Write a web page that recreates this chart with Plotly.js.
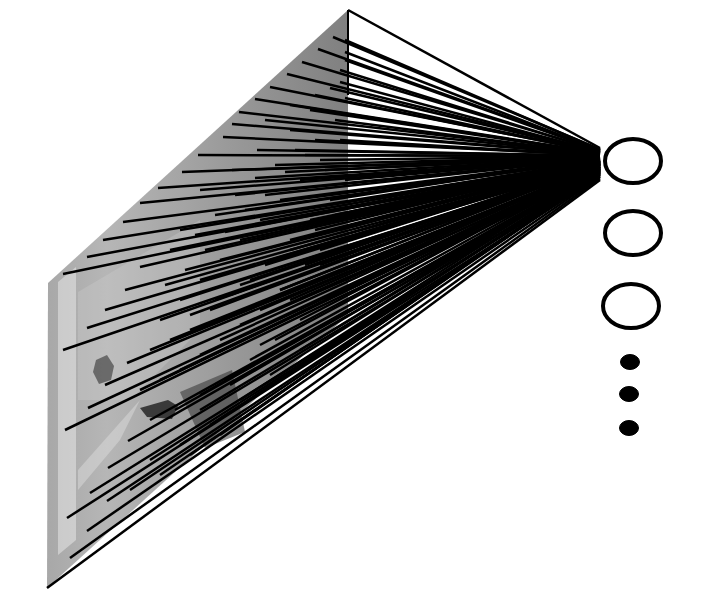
<!DOCTYPE html>
<html><head><meta charset="utf-8">
<script src="https://cdn.plot.ly/plotly-3.0.1.min.js"></script>
<style>html,body{margin:0;padding:0;background:#fff}#chart{width:711px;height:611px}</style>
</head><body><div id="chart"></div>
<script>
// Image parallelogram corners (sheared input picture)
const imageX = [348, 48, 47, 348];
const imageY = [10, 283, 588, 315];

// A few tonal regions of the picture
const lightBandX = [58, 76, 76, 58];
const lightBandY = [282, 267, 540, 555];
const lightFaceX = [78, 200, 200, 130, 78];
const lightFaceY = [292, 220, 330, 400, 400];
const lightTriX = [78, 140, 120, 78];
const lightTriY = [470, 400, 440, 490];
const eyeX = [96, 107, 114, 111, 99, 93];
const eyeY = [360, 355, 366, 380, 384, 372];
const chinX = [140, 168, 178, 172, 147];
const chinY = [408, 400, 406, 419, 417];
const darkX = [180, 232, 245, 205];
const darkY = [392, 370, 432, 448];

// Start points of the connection lines (pixels of the input)
const startX = [348,333,318,302,287,270,255,239,232,223,198,182,158,140,123,103,87,63,
  180,125,105,87,140,232,257,200,290,310,330,340,
  63,127,105,88,65,128,108,90,107,67,87,70,47,
  160,180,200,220,240,260,280,300,320,340,
  150,170,190,210,230,250,270,290,310,330,345,
  140,160,180,200,220,240,260,280,300,320,340,
  150,175,200,225,250,275,300,325,345,
  150,180,210,240,270,300,
  130,160,190,220, 345,345,345,345,
  170,195,215,235,255,275,295,315,335,
  165,185,205,225,245,265,285,305,325,
  190,215,240,265,290,315,335,
  200,230,260,290,320,
  265,290,315,340, 280,305,330];
const startY = [10,37,49,62,74,87,99,112,124,137,155,172,188,203,222,240,257,274,
  230,290,310,328,267,170,150,190,130,110,88,70,
  350,363,385,408,430,441,468,493,501,518,531,558,588,
  320,300,280,260,240,220,200,180,160,140,
  350,340,330,310,295,280,260,240,220,200,180,
  390,380,370,355,340,325,310,290,270,250,230,
  420,410,395,380,360,340,320,300,280,
  460,445,425,400,375,350,
  490,475,455,435, 40,52,60,98,
  250,235,215,195,178,165,150,140,120,
  285,270,250,232,210,195,172,155,170,
  315,300,285,265,250,230,215,
  410,385,345,300,265,
  120,105,95,82, 290,265,245];

// Output neurons
const nodeX = [633, 633, 631];
const nodeY = [161, 233, 306];
const dotX = [630, 629, 629];
const dotY = [362, 394, 428];

const convX = 600;
const lx = [], ly = [];
for (let i = 0; i < startX.length; i++) {
  const ey = 148 + (startY[i] - 10) * 32 / 578;
  lx.push(startX[i], convX, null);
  ly.push(startY[i], ey, null);
}

function region(x, y, color) {
  return {x: x, y: y, mode: 'lines', fill: 'toself', fillcolor: color, line: {width: 0},
    hoverinfo: 'skip', showlegend: false};
}

const traces = [
  {x: imageX, y: imageY, mode: 'lines', fill: 'toself', line: {width: 0},
   fillgradient: {type: 'horizontal', colorscale: [[0, '#a8a8a8'], [0.2, '#b6b6b6'], [0.6, '#9a9a9a'], [1, '#808080']]},
   hoverinfo: 'skip', showlegend: false},
  region(lightBandX, lightBandY, 'rgba(225,225,225,0.6)'),
  region(lightFaceX, lightFaceY, 'rgba(210,210,210,0.3)'),
  region(lightTriX, lightTriY, 'rgba(220,220,220,0.5)'),
  region(eyeX, eyeY, 'rgba(50,50,50,0.6)'),
  region(chinX, chinY, 'rgba(20,20,20,0.75)'),
  region(darkX, darkY, 'rgba(40,40,40,0.5)'),
  {x: [348, 348], y: [10, 95], mode: 'lines', line: {color: '#000', width: 2}, hoverinfo: 'skip', showlegend: false},
  {x: lx, y: ly, mode: 'lines', line: {color: '#000', width: 2.5}, hoverinfo: 'skip', showlegend: false}
];

const shapes = [];
for (let i = 0; i < nodeX.length; i++) {
  shapes.push({type: 'circle', xref: 'x', yref: 'y', x0: nodeX[i] - 28, x1: nodeX[i] + 28, y0: nodeY[i] - 22, y1: nodeY[i] + 22,
    line: {color: '#000', width: 4}, fillcolor: '#fff', layer: 'above'});
}
for (let i = 0; i < dotX.length; i++) {
  shapes.push({type: 'circle', xref: 'x', yref: 'y', x0: dotX[i] - 9.5, x1: dotX[i] + 9.5, y0: dotY[i] - 7.5, y1: dotY[i] + 7.5,
    line: {color: '#000', width: 1}, fillcolor: '#000', layer: 'above'});
}

Plotly.newPlot('chart', traces, {
  width: 711, height: 611,
  margin: {l: 0, r: 0, t: 0, b: 0},
  paper_bgcolor: '#fff', plot_bgcolor: '#fff',
  xaxis: {range: [0, 711], visible: false, fixedrange: true},
  yaxis: {range: [611, 0], visible: false, fixedrange: true},
  shapes: shapes,
  showlegend: false
}, {staticPlot: true});
</script></body></html>
